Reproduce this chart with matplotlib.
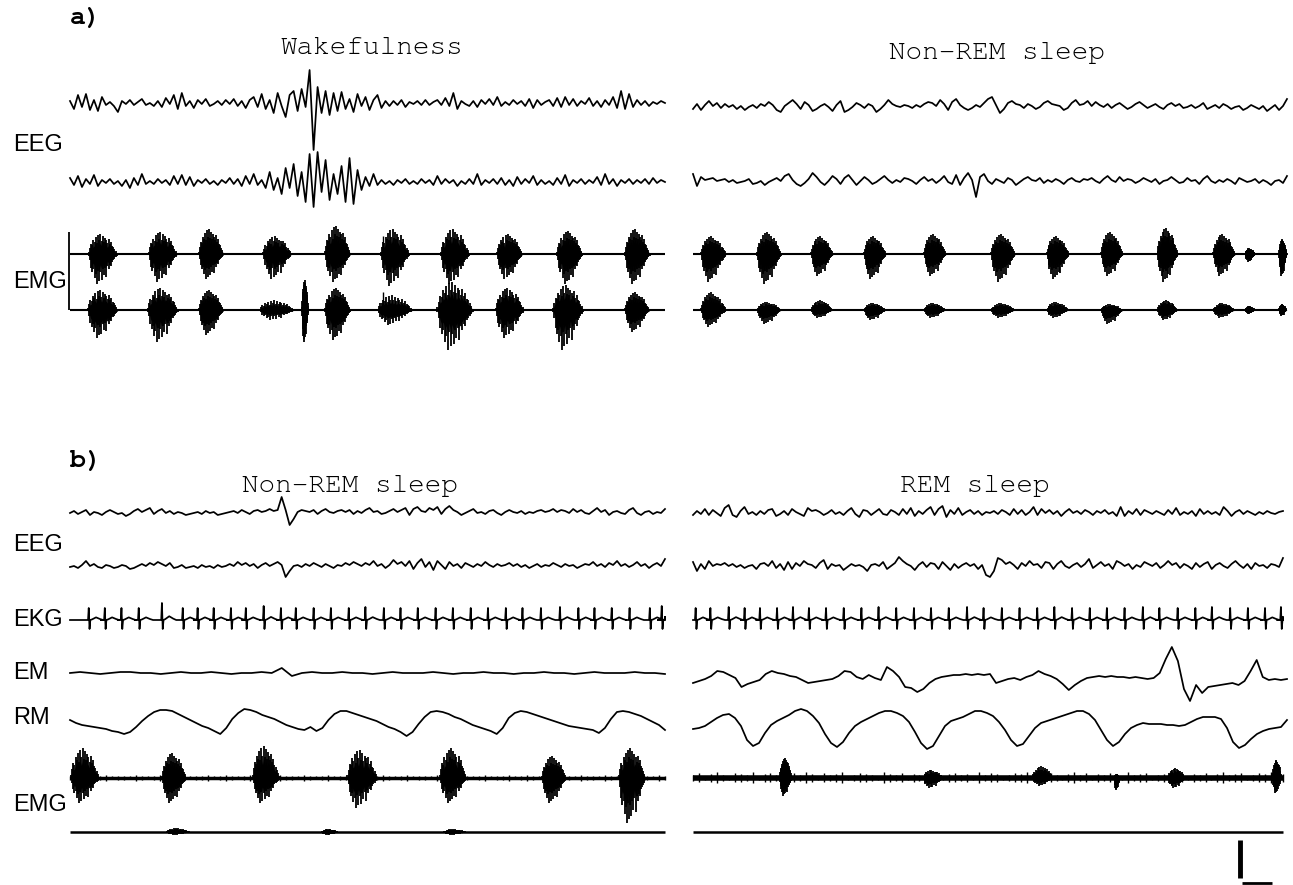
import numpy as np
import matplotlib
matplotlib.use("Agg")
import matplotlib.pyplot as plt

# ---------------- DATA (pixel-like amplitude units, up = positive) -------------
# Panel a) Wakefulness EEG
EEG_WAKE_1 = [2,-6,8,-4,9,-7,3,-8,6,-2, 1,-3,-9,2,-1,3,-2,1,4,-2, 0,-3,2,-4,5,-1,8,-6,10,-3,
              2,-5,3,-1,4,-3,-1,2,-2,3, -1,4,-3,2,-5,3,6,-4,9,-6, 3,-10,10,-3,-14,8,12,-8,14,-4,
              33,-47,16,-10,12,-12,10,-8,11,-6, 4,-9,9,-3,6,-7,3,8,-5,2, -3,2,-2,3,-4,1,-1,2,-2,3,
              -2,1,3,-2,5,-3,10,-6,2,-1, -3,2,-4,3,-1,4,-2,6,-3,1, -2,3,-1,2,-3,4,-5,3,-2,1,
              3,-3,5,-4,6,-2,4,-3,2,-1, 5,-3,2,-4,3,-2,6,-5,12,-6, 9,-4,3,-2,2,-3,1,-1,2,0]
EEG_WAKE_2 = [4,-3,6,-5,3,-2,7,-4,2,-1, 3,-2,1,-4,2,-6,4,-3,8,-2, 1,-2,3,-1,2,-3,6,-2,7,-3,
              5,-4,2,-1,3,-2,1,-3,2,-1, 4,-2,3,-4,6,-2,8,-3,2,-6, 10,-8,4,-12,14,-6,18,-14,10,-20,
              28,-25,30,-10,22,-18,8,-12,16,-20, 24,-22,12,-8,5,-4,8,-3,2,-2, 1,-3,2,-1,3,-2,1,-2,3,-1,
              2,-3,6,-2,3,-1,2,-4,1,-2, 3,-2,8,-3,2,-1,3,-2,4,-3, 2,-4,5,-2,3,-1,6,-3,2,-2,
              1,-3,4,-2,7,-4,2,-1,3,-2, 2,-1,5,-3,8,-2,3,-4,2,-1, 3,-2,2,-1,3,-2,4,-1,2,0]
# Panel a) Non-REM EEG
EEG_NREM_A1 = [-2,3,-3,2,6,1,4,-1,3,0, 2,-2,1,-3,0,2,-1,3,1,5, 2,-3,-5,1,4,7,3,-2,5,2,
               -4,-2,1,3,0,-4,2,6,-5,-3, 0,4,2,-1,3,1,-5,-2,2,7, 3,1,0,2,1,-1,2,0,3,5,
               4,1,7,3,-3,5,8,2,-1,-3, -1,2,0,4,8,10,2,-6,-2,4, 6,3,2,-1,3,1,-2,0,4,6,
               3,2,1,-3,-1,4,7,2,3,6, 1,5,2,0,3,-1,2,4,1,-2, 0,3,5,2,-1,1,3,0,-2,2,
               4,1,3,-1,0,2,-1,1,4,-2, 0,2,-1,3,1,-2,0,1,-3,-1, 2,0,-2,1,-4,-1,2,-3,1,8]
EEG_NREM_A2 = [8,-4,5,2,3,4,1,2,3,0, 2,-1,0,1,3,-2,-1,1,-3,0, 2,4,1,6,8,2,-2,-4,-1,3,
               9,5,0,-3,1,6,3,-2,4,7, 2,-3,1,5,2,-2,0,3,6,2, -1,2,0,4,3,1,-2,2,5,1,
               3,-1,2,6,0,-2,7,-3,4,9, 2,-15,5,8,1,-2,3,1,-1,4, 2,-3,0,3,5,2,1,4,-1,2,
               0,3,1,-2,2,4,1,0,3,2, 4,1,-1,3,6,2,0,5,1,3, 2,-1,1,4,2,0,3,-2,1,2,
               5,2,-1,0,4,1,2,-2,3,6, 1,-1,2,0,3,1,-2,4,2,0, 1,3,-1,2,0,-3,1,2,-1,6]
# Panel a) EMG bursts: centre / width in % of the sweep, upward and downward extent
EMG_WAKE1_C = [5.5, 15.6, 23.7, 34.8, 45.0, 54.6, 64.7, 73.9, 84.0, 95.3]
EMG_WAKE1_W = [4.7, 4.7, 4.2, 4.7, 4.2, 4.7, 4.7, 4.2, 4.2, 4.2]
EMG_WAKE1_U = [20, 22, 25, 18, 28, 25, 25, 20, 23, 25]
EMG_WAKE1_D = [30, 28, 25, 25, 28, 32, 30, 25, 30, 30]
EMG_WAKE2_C = [5.5, 15.6, 23.7, 34.8, 39.5, 45.0, 54.6, 64.7, 73.9, 83.7, 95.3]
EMG_WAKE2_W = [5.0, 5.0, 4.2, 5.9, 1.0, 4.2, 5.9, 5.9, 4.7, 5.0, 4.2]
EMG_WAKE2_U = [20, 22, 20, 10, 30, 22, 15, 28, 22, 25, 18]
EMG_WAKE2_D = [28, 32, 25, 10, 32, 30, 15, 40, 28, 40, 22]
EMG_NREMA_C = [3.4, 12.8, 21.7, 30.6, 40.7, 52.2, 61.4, 70.5, 79.9, 89.4, 93.8, 99.3]
EMG_NREMA_W = [4.2, 4.0, 3.7, 3.7, 3.7, 4.0, 3.7, 3.7, 3.4, 3.7, 1.7, 1.3]
EMG_NREMA1_U = [18, 22, 18, 18, 20, 20, 18, 22, 26, 20, 6, 15]
EMG_NREMA1_D = [28, 30, 22, 25, 22, 28, 25, 22, 28, 22, 8, 22]
EMG_NREMA2_U = [18, 8, 10, 7, 7, 7, 8, 6, 10, 7, 4, 6]
EMG_NREMA2_D = [17, 14, 8, 10, 8, 8, 8, 14, 10, 8, 4, 6]

# Panel b) Non-REM
EEG_NREM_B1 = [0,2,-1,1,3,-2,1,0,-2,1, 3,1,-1,0,-3,-1,2,4,1,3, 5,-1,2,4,0,2,-1,1,0,-2,
               -1,0,1,-1,2,0,1,-2,-1,0, 1,2,0,3,1,-1,2,3,1,2, 4,2,3,16,3,-12,-6,1,3,2,
               1,3,-1,2,4,1,0,2,3,1, 3,-1,2,0,3,5,1,2,-1,0, 2,4,1,3,5,-2,4,6,2,1,
               5,3,6,-1,4,7,3,1,-2,0, 2,4,0,1,-1,2,3,0,-2,1, 3,1,0,2,-1,1,0,2,3,1,
               2,4,1,3,2,0,4,1,3,0, -1,2,5,1,3,-2,1,2,0,-1, 3,5,0,-2,1,2,-1,1,0,4]
EEG_NREM_B2 = [0,1,-1,2,6,1,3,0,-1,2, 1,-1,0,2,1,-2,-1,1,3,1, 4,2,5,3,1,4,-1,0,2,-1,
               0,1,-1,2,0,1,-1,2,0,1, 3,1,5,2,4,1,3,-1,2,4, 1,3,5,2,-10,-4,1,2,0,3,
               1,4,2,0,3,1,-1,2,1,4, 2,5,3,1,4,2,6,1,3,-1, 2,7,3,5,1,6,-2,4,8,0,
               5,-3,6,2,-2,5,1,3,-1,4, 2,0,3,1,5,2,0,3,1,2, 4,1,3,0,2,-1,1,3,0,2,
               1,4,2,0,3,1,2,-1,1,3, 2,5,1,3,0,4,2,6,1,3, 0,2,5,1,3,-1,2,4,1,8]
EKG_NREM_T = [3.2, 5.9, 8.7, 11.6, 15.5, 19.0, 21.5, 24.2, 27.1, 29.6, 32.6, 35.5, 38.0, 41.0, 43.9,
              46.9, 49.7, 52.8, 55.6, 58.5, 61.5, 64.4, 67.4, 70.3, 73.3, 76.1, 79.2, 82.4, 85.5,
              88.2, 91.1, 94.1, 97.5, 99.5]
EKG_NREM_R = [12, 12, 12, 12, 17, 12, 12, 12, 12, 12, 14, 12, 12, 12, 12, 12, 13, 12, 12, 12, 12,
              12, 12, 12, 12, 12, 12, 13, 12, 12, 12, 12, 12, 14]
EM_NREM = [0,1,0,-1,0,1,1,0,0,-1, 0,1,0,0,1,0,-1,0,0,1, 0,5,-3,0,1,0,0,1,0,0,
           -1,0,1,0,0,0,1,0,-1,0, 0,1,0,0,-1,0,0,1,0,0, -1,0,1,0,0,0,1,0,0,-1]
RM_NREM = [2,-1,-3,-4,-5,-6,-7,-9,-10,-12, -10,-5,1,6,10,12,12,11,8,5,
           2,-1,-4,-6,-9,-12,-6,3,9,13, 12,10,7,5,3,0,-3,-5,-7,-8,
           -5,-9,-6,2,8,11,11,9,7,5, 3,1,-2,-5,-7,-10,-14,-10,-2,5,
           10,11,10,8,5,3,0,-3,-5,-7, -9,-12,-6,4,9,11,10,8,6,4,
           2,0,-2,-4,-5,-6,-7,-8,-11,-6, 3,10,11,10,8,6,3,0,-3,-8]
EMG_NREMB1_C = [2.5, 17.5, 32.9, 49.1, 64.4, 81.3, 94.5]
EMG_NREMB1_W = [4.7, 4.0, 4.4, 5.0, 4.4, 4.0, 4.4]
EMG_NREMB1_U = [30, 25, 32, 28, 30, 22, 30]
EMG_NREMB1_D = [25, 25, 25, 30, 25, 25, 45]
EMG_NREMB1_NOISE = [3,2,4,3,2,3,4,2,3,3,2,4,3,2,3,4,3,2,3,4,2,3,3,4,2,3,4,3,2,3,
                    4,2,3,3,2,4,3,3,2,4,3,2,3,4,2,3,3,2,4,3,2,3,4,3,2,3,4,2,3,3,
                    2,4,3,2,3,4,3,2,3,4,2,3,3,4,2,3,4,3,2,3,4,2,3,3,2,4,3,3,2,4,
                    3,2,3,4,2,3,3,2,4,3]
EMG_NREMB2_C = [18.2, 43.7, 64.7]
EMG_NREMB2_W = [4.0, 3.0, 4.0]
EMG_NREMB2_U = [4, 3, 3]
EMG_NREMB2_D = [3, 3, 3]

# Panel b) REM
EEG_REM_1 = [-2,2,-1,4,-2,3,0,-3,5,8, -2,-4,2,6,-1,1,-2,2,-1,3, 4,-3,-1,2,-2,4,1,-1,-3,5,
             2,3,1,-2,0,3,-1,1,-2,2, 5,-1,-4,3,2,-2,1,4,-1,-2, 3,1,-2,4,-1,5,-3,2,-1,3,
             6,-2,4,7,-4,3,-1,5,-2,1, 3,-1,2,-2,1,0,2,-1,3,1, -2,4,-1,3,-2,1,6,-2,4,0,
             3,-1,2,-3,1,4,0,2,-1,3, 1,-2,2,0,3,-1,1,-3,6,-3, 2,-1,4,-2,3,1,-1,2,0,-2,
             3,-1,5,-2,1,-1,2,-3,4,-1, 2,-1,1,-2,6,2,-3,1,3,-1, 2,0,-2,1,-1,2,0,-1,1,2]
EEG_REM_2 = [5,-4,3,-2,6,1,3,2,4,1, 3,0,2,-1,1,2,-2,3,4,1, 6,-1,3,-3,5,-2,4,1,6,3,
             2,-1,4,7,-2,3,1,2,-3,0, 3,1,2,0,-4,2,3,1,5,-2, 1,4,10,6,3,1,-3,2,5,0,
             4,3,-2,5,1,-3,3,-1,2,4, 1,3,-2,2,-8,-10,-4,9,7,3, 5,2,-2,4,1,6,2,3,-1,5,
             4,-2,3,6,1,-1,2,4,0,3, 8,-1,2,5,1,3,-2,6,4,1, 3,-2,2,0,5,3,1,4,-1,2,
             6,2,4,-1,3,1,-2,4,0,3, 5,-2,2,4,1,-1,3,6,2,-1, 3,-2,4,1,2,-1,3,2,0,9]
EKG_REM_T = [0.5, 3.0, 6.1, 8.8, 11.4, 14.3, 17.0, 19.7, 22.6, 25.6, 28.6, 31.5, 34.5, 37.5, 40.4,
             43.4, 46.5, 49.3, 52.4, 55.4, 58.4, 61.3, 64.3, 67.3, 70.2, 73.2, 76.3, 79.1, 82.2,
             85.2, 88.0, 91.1, 94.1, 97.0, 99.7]
EKG_REM_R = [12, 12, 13, 12, 12, 12, 13, 12, 12, 12, 12, 13, 12, 12, 12, 12, 13, 12, 12, 12, 12,
             13, 12, 12, 12, 12, 13, 12, 12, 12, 13, 12, 12, 12, 13]
EM_REM = [-4,-2,0,3,8,7,4,1,-8,-5, -3,-1,5,8,6,5,3,2,-1,-4, -3,-2,-1,0,3,8,7,2,0,4,
          1,-1,12,8,2,-8,-9,-13,-10,-4, 0,2,3,4,4,5,4,5,4,5, -4,-2,0,1,-1,2,4,8,5,3,
          0,-5,-11,-6,-2,1,2,3,2,3, 2,2,1,2,1,0,1,6,20,32, 18,-10,-22,-6,-14,-8,-7,-6,-5,-4,
          -6,-2,8,19,2,-1,0,-1,0]
RM_REM = [-1,0,2,6,10,13,14,10,2,-12, -18,-15,-5,3,7,10,13,17,19,17, 12,5,-6,-15,-19,-14,-5,2,6,9,
          12,15,17,17,15,12,6,-4,-15,-21, -18,-8,2,7,9,11,14,17,17,15, 12,6,-2,-12,-18,-16,-8,0,5,7,
          9,11,13,15,17,17,14,8,-2,-12, -18,-14,-6,0,3,5,4,4,4,3, 3,2,3,6,9,11,11,11,9,0,
          -14,-20,-17,-11,-6,-3,-1,0,1,8]
EMG_REMB1_C = [15.7, 40.7, 59.3, 71.9, 82.0, 99.0]
EMG_REMB1_W = [2.0, 3.5, 3.5, 1.0, 3.0, 1.5]
EMG_REMB1_U = [20, 8, 12, 4, 10, 18]
EMG_REMB1_D = [18, 10, 8, 12, 10, 15]
EMG_REMB1_NOISE = [4,6,3,5,7,4,3,6,5,4,7,3,5,6,4,5,3,6,4,7,5,3,6,4,5,7,3,4,6,5,
                   4,3,7,5,4,6,3,5,4,6,7,4,3,5,6,4,5,3,7,4,6,5,3,4,6,5,7,3,4,5,
                   6,4,3,5,7,4,6,3,5,4,6,5,3,7,4,5,6,3,4,5,7,4,6,3,5,4,6,3,5,7,
                   4,5,6,3,4,6,5,7,4,5]

# burst outline (relative extent across one burst)
BURST_UP = [0.1, 0.3, 0.5, 0.45, 0.7, 0.6, 0.85, 0.55, 0.95, 0.7, 1.0, 0.65, 0.9,
            0.6, 0.8, 0.7, 0.55, 0.75, 0.5, 0.6, 0.4, 0.35, 0.25, 0.15, 0.05]
BURST_DN = [0.05, 0.2, 0.45, 0.6, 0.5, 0.8, 0.65, 1.0, 0.55, 0.9, 0.6, 0.85, 0.5,
            0.7, 0.45, 0.75, 0.4, 0.5, 0.35, 0.4, 0.25, 0.2, 0.15, 0.1, 0.05]

# ---------------- FIGURE -------------
MONO = ["Courier New", "Nimbus Mono PS", "FreeMono", "Liberation Mono", "DejaVu Sans Mono"]
SANS = ["Liberation Sans", "Arial", "DejaVu Sans"]

fig = plt.figure(figsize=(12.93, 8.85), dpi=100)
fig.patch.set_facecolor("white")
ax = fig.add_axes([0, 0, 1, 1])
ax.set_xlim(0, 1293)
ax.set_ylim(885, 0)
ax.axis("off")

K = "black"
LW = 1.25


def trace(vals, x0, x1, y0, lw=LW):
    v = np.asarray(vals, float)
    x = np.linspace(x0, x1, len(v))
    ax.plot(x, y0 - v, color=K, lw=lw)


def emg(x0, x1, y0, C, W, U, D, base_lw=1.5, noise=None, noise_lw=1.0):
    span = x1 - x0
    ax.plot([x0, x1], [y0, y0], color=K, lw=base_lw, solid_capstyle="butt")
    if noise is not None:
        nv = np.asarray(noise, float)
        xs = np.linspace(x0, x1, len(nv))
        ax.vlines(xs, y0 - nv * 0.8, y0 + nv * 0.7, color=K, lw=noise_lw)
    su = np.asarray(BURST_UP)
    sd = np.asarray(BURST_DN)
    for c, w, u, d in zip(C, W, U, D):
        xc = x0 + c / 100 * span
        ww = w / 100 * span
        xs = np.linspace(xc - ww / 2, xc + ww / 2, len(su))
        ax.vlines(xs, y0 - u * su, y0 + d * sd, color=K, lw=1.3)
        ax.fill_between(xs, y0 - 0.6 * u * su, y0 + 0.6 * d * sd, color=K, lw=0)


def ekg(x0, x1, y0, T, R, S=9):
    span = x1 - x0
    dx = [-4.0, -1.0, -0.3, 0.5, 1.3, 3.0, 7.0, 11.0, 14.0]
    fr = [0.0, 0.0, 1.0, None, 0.0, 0.05, 0.22, 0.08, 0.0]
    xs, ys = [x0], [y0]
    for t, r in zip(T, R):
        xc = x0 + t / 100 * span
        for ddx, f in zip(dx, fr):
            xx = min(max(xc + ddx, x0), x1)
            if f is None:
                yy = y0 + S
            else:
                yy = y0 - f * r
            xs.append(xx)
            ys.append(yy)
    xs.append(x1)
    ys.append(y0)
    ax.plot(xs, ys, color=K, lw=LW)


# ---- panel a ----
ax.text(70, 18, "a)", family=MONO, fontweight="bold", fontsize=19, ha="left", va="center")
ax.text(372, 48, "Wakefulness", family=MONO, fontsize=20, ha="center", va="center")
ax.text(997, 53, "Non-REM sleep", family=MONO, fontsize=20, ha="center", va="center")

AL0, AL1 = 70, 665
AR0, AR1 = 693, 1287
trace(EEG_WAKE_1, AL0, AL1, 103)
trace(EEG_WAKE_2, AL0, AL1, 182)
trace(EEG_NREM_A1, AR0, AR1, 107)
trace(EEG_NREM_A2, AR0, AR1, 182)
ax.text(13, 145, "EEG", family=SANS, fontsize=17, ha="left", va="center")

emg(AL0, AL1, 254, EMG_WAKE1_C, EMG_WAKE1_W, EMG_WAKE1_U, EMG_WAKE1_D)
emg(AL0, AL1, 310, EMG_WAKE2_C, EMG_WAKE2_W, EMG_WAKE2_U, EMG_WAKE2_D)
emg(AR0, AR1, 254, EMG_NREMA_C, EMG_NREMA_W, EMG_NREMA1_U, EMG_NREMA1_D)
emg(AR0, AR1, 310, EMG_NREMA_C, EMG_NREMA_W, EMG_NREMA2_U, EMG_NREMA2_D)
ax.vlines(69, 232, 310, color=K, lw=1.3)
ax.vlines(383, 236, 254, color=K, lw=1.0)
ax.vlines(383, 292, 310, color=K, lw=1.0)
ax.text(13, 282, "EMG", family=SANS, fontsize=17, ha="left", va="center")

# ---- panel b ----
ax.text(70, 461, "b)", family=MONO, fontweight="bold", fontsize=19, ha="left", va="center")
ax.text(350, 486, "Non-REM sleep", family=MONO, fontsize=20, ha="center", va="center")
ax.text(975, 486, "REM sleep", family=MONO, fontsize=20, ha="center", va="center")

BL0, BL1 = 70, 665
BR0, BR1 = 693, 1283
trace(EEG_NREM_B1, BL0, BL1, 513)
trace(EEG_NREM_B2, BL0, BL1, 567)
trace(EEG_REM_1, BR0, BR1, 513)
trace(EEG_REM_2, BR0, BR1, 567)
ax.text(13, 545, "EEG", family=SANS, fontsize=17, ha="left", va="center")

ekg(BL0, BL1, 620, EKG_NREM_T, EKG_NREM_R)
ekg(BR0, BR1, 620, EKG_REM_T, EKG_REM_R)
ax.text(13, 620, "EKG", family=SANS, fontsize=17, ha="left", va="center")

trace(EM_NREM, BL0, BL1, 673)
trace(EM_REM, BR0, 1287, 679)
ax.text(13, 673, "EM", family=SANS, fontsize=17, ha="left", va="center")

trace(RM_NREM, BL0, BL1, 722)
trace(RM_REM, BR0, 1287, 728)
ax.text(13, 718, "RM", family=SANS, fontsize=17, ha="left", va="center")

emg(BL0, BL1, 778, EMG_NREMB1_C, EMG_NREMB1_W, EMG_NREMB1_U, EMG_NREMB1_D,
    base_lw=2.5, noise=EMG_NREMB1_NOISE, noise_lw=1.0)
emg(BL0, BL1, 832, EMG_NREMB2_C, EMG_NREMB2_W, EMG_NREMB2_U, EMG_NREMB2_D, base_lw=1.8)
emg(BR0, BR1, 778, EMG_REMB1_C, EMG_REMB1_W, EMG_REMB1_U, EMG_REMB1_D,
    base_lw=4.0, noise=EMG_REMB1_NOISE, noise_lw=1.0)
emg(BR0, BR1, 832, [], [], [], [], base_lw=1.8)
ax.text(13, 805, "EMG", family=SANS, fontsize=17, ha="left", va="center")

# calibration bars
ax.plot([1240, 1240], [840, 878], color=K, lw=3.5, solid_capstyle="butt")
ax.plot([1242, 1272], [883, 883], color=K, lw=2.0, solid_capstyle="butt")

fig.savefig("out.png", dpi=100, facecolor="white")
